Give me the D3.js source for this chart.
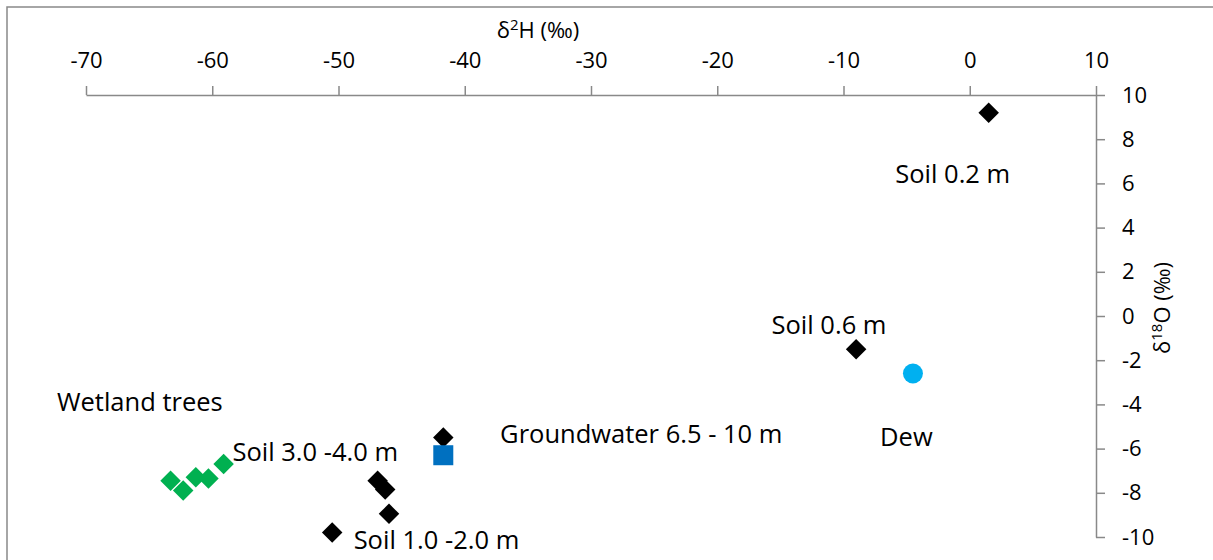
<!DOCTYPE html>
<html>
<head>
<meta charset="utf-8">
<title>Isotopes</title>
<script src="https://cdn.jsdelivr.net/npm/d3@7"></script>
<style>
  body { margin: 0; background: #fff; }
  text { font-family: "Open Sans", sans-serif; fill: #000; }
</style>
</head>
<body>
<svg id="chart" width="1213" height="560"></svg>
<script>
// data: [d2H, d18O]
var soil = [[1.5, 9.2], [-9.0, -1.5], [-41.7, -5.5], [-46.9, -7.45], [-46.3, -7.85], [-46.0, -8.95], [-50.5, -9.8]];
var groundwater = [[-41.7, -6.3]];
var dew = [[-4.5, -2.6]];
var wetlandTrees = [[-63.3, -7.45], [-62.3, -7.9], [-61.3, -7.3], [-60.3, -7.35], [-59.1, -6.7]];
var xTicks = [-70, -60, -50, -40, -30, -20, -10, 0, 10];
var yTicks = [10, 8, 6, 4, 2, 0, -2, -4, -6, -8, -10];
var labels = [
  {text: "Soil 0.2 m", at: [-5.9, 6.0]},
  {text: "Soil 0.6 m", at: [-15.7, -0.8]},
  {text: "Dew", at: [-7.1, -5.9]},
  {text: "Wetland trees", at: [-72.3, -4.3]},
  {text: "Soil 3.0 -4.0 m", at: [-58.4, -6.55]},
  {text: "Groundwater 6.5 - 10 m", at: [-37.2, -5.75]},
  {text: "Soil 1.0 -2.0 m", at: [-48.8, -10.55]}
];

var svg = d3.select("#chart");
var x = d3.scaleLinear().domain([-70, 10]).range([86, 1096]);
var y = d3.scaleLinear().domain([-10, 10]).range([537, 95]);
var axisColor = "#898989";

// chart frame
svg.append("rect").attr("x", 7).attr("y", 7).attr("width", 1400).attr("height", 800)
  .attr("fill", "none").attr("stroke", axisColor).attr("stroke-width", 1.5);

var gx = svg.append("g").attr("transform", "translate(0," + y(10) + ")")
  .call(d3.axisTop(x).tickValues(xTicks).tickFormat(String).tickSize(9).tickSizeOuter(0).tickPadding(18));
var gy = svg.append("g").attr("transform", "translate(" + x(10) + ",0)")
  .call(d3.axisRight(y).tickValues(yTicks).tickFormat(String).tickSize(9).tickSizeOuter(0).tickPadding(17));

[gx, gy].forEach(function(g){
  g.select(".domain").attr("stroke", axisColor).attr("stroke-width", 1.5);
  g.selectAll(".tick line").attr("stroke", axisColor).attr("stroke-width", 1.5);
  g.selectAll(".tick text").attr("font-family", "Open Sans").attr("font-size", 22).attr("fill", "#000");
});

svg.append("text").attr("x", 538).attr("y", 38).attr("text-anchor", "middle")
  .attr("font-size", 22).html("δ<tspan dy='-8' font-size='15'>2</tspan><tspan dy='8'>H (‰)</tspan>");
svg.append("text").attr("transform", "translate(1170,308) rotate(-90)").attr("text-anchor", "middle")
  .attr("font-size", 22).html("δ<tspan dy='-8' font-size='15'>18</tspan><tspan dy='8'>O (‰)</tspan>");

var diamond = d3.symbol().type(d3.symbolSquare).size(210);
function diamonds(data, color) {
  svg.append("g").selectAll("path").data(data).enter().append("path")
    .attr("d", diamond)
    .attr("transform", function(d){ return "translate(" + x(d[0]) + "," + y(d[1]) + ") rotate(45)"; })
    .attr("fill", color);
}
diamonds(wetlandTrees, "#00b050");
diamonds(soil, "#000");

svg.append("g").selectAll("rect").data(groundwater).enter().append("rect")
  .attr("x", function(d){ return x(d[0]) - 10; })
  .attr("y", function(d){ return y(d[1]) - 10; })
  .attr("width", 20).attr("height", 20).attr("fill", "#0070c0");

svg.append("g").selectAll("circle").data(dew).enter().append("circle")
  .attr("cx", function(d){ return x(d[0]); })
  .attr("cy", function(d){ return y(d[1]); })
  .attr("r", 10).attr("fill", "#00b0f0");

svg.append("g").selectAll("text").data(labels).enter().append("text")
  .attr("x", function(d){ return x(d.at[0]); })
  .attr("y", function(d){ return y(d.at[1]); })
  .attr("font-size", 25.5)
  .text(function(d){ return d.text; });
</script>
</body>
</html>
